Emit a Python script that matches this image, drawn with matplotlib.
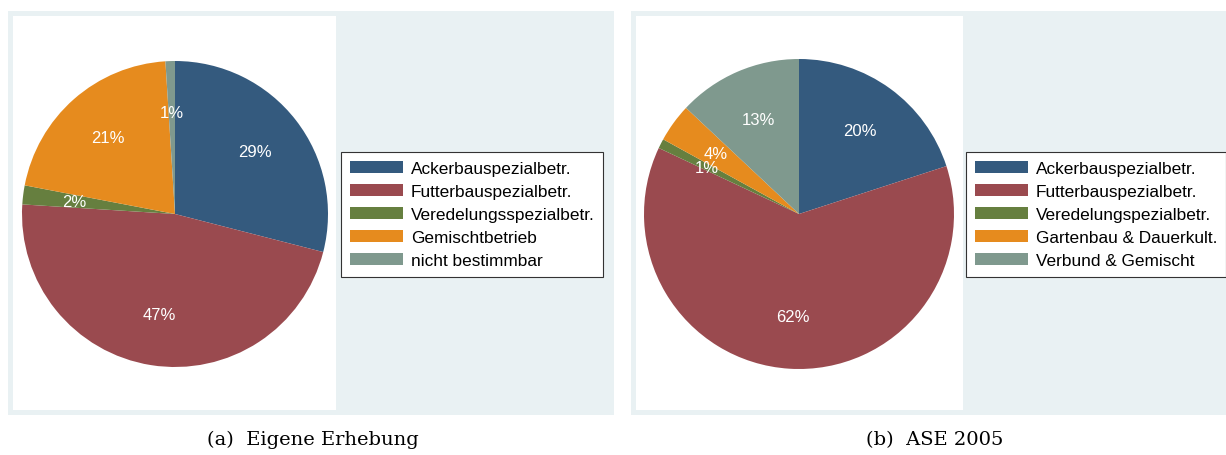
import matplotlib
matplotlib.use("Agg")
import matplotlib.pyplot as plt
from matplotlib.patches import Rectangle

# Data
labels_a = ["Ackerbauspezialbetr.", "Futterbauspezialbetr.", "Veredelungsspezialbetr.",
            "Gemischtbetrieb", "nicht bestimmbar"]
values_a = [29, 47, 2, 21, 1]
labels_b = ["Ackerbauspezialbetr.", "Futterbauspezialbetr.", "Veredelungspezialbetr.",
            "Gartenbau & Dauerkult.", "Verbund & Gemischt"]
values_b = [20, 62, 1, 4, 13]
captions = ["(a)  Eigene Erhebung", "(b)  ASE 2005"]

colors = ["#345a7e", "#9a4a4f", "#667f3f", "#e68b1e", "#7f998e"]
bg = "#e9f1f3"

W, H = 1226, 456
fig = plt.figure(figsize=(W / 100, H / 100), dpi=100)
plt.rcParams['font.family'] = ['Liberation Sans', 'DejaVu Sans']


def px_rect(x0, y0, x1, y1, color):
    fig.patches.append(Rectangle((x0 / W, 1 - y1 / H), (x1 - x0) / W, (y1 - y0) / H,
                                 transform=fig.transFigure, facecolor=color,
                                 edgecolor='none', zorder=-10))


# panel backgrounds
px_rect(8, 12, 614, 416, bg)
px_rect(13, 17, 336, 411, "white")
px_rect(631, 12, 1226, 416, bg)
px_rect(636, 17, 963, 411, "white")

panels = [
    (labels_a, values_a, (175, 215), 153, (341, 153), captions[0], 313),
    (labels_b, values_b, (799, 215), 155, (966, 153), captions[1], 935),
]

for labels, values, (cx, cy), r, (lx, ly), cap, capx in panels:
    ax = fig.add_axes([(cx - r) / W, 1 - (cy + r) / H, 2 * r / W, 2 * r / H])
    ax.patch.set_visible(False)
    wedges, texts, autotexts = ax.pie(values, colors=colors, startangle=90,
                                      counterclock=False, radius=1,
                                      autopct='%d%%', pctdistance=0.665,
                                      textprops=dict(color='white', fontsize=12))
    ax.set_xlim(-1, 1)
    ax.set_ylim(-1, 1)
    ax.axis('off')
    leg = fig.legend(wedges, labels, loc='upper left',
                     bbox_to_anchor=(lx / W, 1 - ly / H),
                     bbox_transform=fig.transFigure,
                     fancybox=False, framealpha=1, edgecolor='#333333',
                     fontsize=12.4, handlelength=3.1, handleheight=0.75,
                     labelspacing=0.45, handletextpad=0.45, borderpad=0.5,
                     borderaxespad=0)
    leg.get_frame().set_linewidth(0.8)
    leg.set_zorder(5)
    fig.text(capx / W, 1 - 440 / H, cap, ha='center', va='center',
             fontsize=14, family=['DejaVu Serif'])

fig.savefig("out.png", dpi=100)
